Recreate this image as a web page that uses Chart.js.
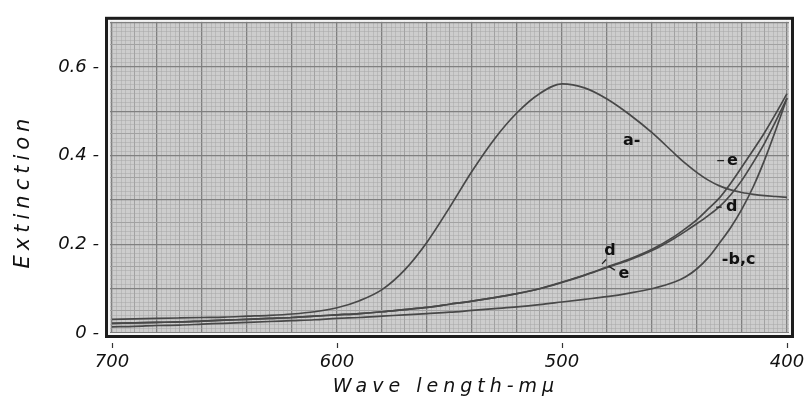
<!DOCTYPE html>
<html><head><meta charset="utf-8">
<script src="https://cdn.jsdelivr.net/npm/chart.js@4/dist/chart.umd.min.js"></script>
<style>html,body{margin:0;padding:0;background:#fff;}</style>
</head><body>
<canvas id="c" width="809" height="404"></canvas>
<script>
// ---- data ----
const wavelengths = [700,690,680,670,660,650,640,630,620,610,600,590,580,570,560,550,540,530,520,510,500,490,480,470,460,450,445,440,435,430,425,420,415,410,405,400];
const curveA  = [0.031,0.032,0.033,0.034,0.035,0.036,0.038,0.040,0.043,0.048,0.057,0.073,0.098,0.142,0.205,0.283,0.365,0.438,0.497,0.540,0.562,0.553,0.528,0.493,0.452,0.405,0.382,0.362,0.345,0.332,0.323,0.317,0.313,0.310,0.308,0.306];
const curveBC = [0.014,0.015,0.017,0.018,0.020,0.022,0.024,0.026,0.028,0.030,0.033,0.035,0.038,0.041,0.044,0.047,0.051,0.055,0.059,0.064,0.070,0.076,0.082,0.090,0.100,0.115,0.127,0.145,0.170,0.203,0.238,0.280,0.330,0.390,0.458,0.530];
const curveD  = [0.022,0.023,0.024,0.025,0.027,0.029,0.031,0.033,0.035,0.038,0.041,0.044,0.048,0.053,0.058,0.065,0.072,0.080,0.089,0.100,0.114,0.130,0.148,0.165,0.186,0.214,0.230,0.247,0.265,0.285,0.312,0.345,0.385,0.428,0.478,0.530];
const curveE  = [0.022,0.023,0.024,0.025,0.027,0.029,0.031,0.033,0.035,0.038,0.041,0.044,0.048,0.053,0.058,0.065,0.072,0.080,0.089,0.100,0.115,0.131,0.149,0.167,0.189,0.218,0.236,0.256,0.280,0.305,0.338,0.375,0.413,0.452,0.495,0.540];
const seriesNames = ['a','b,c','d','e'];
const xTickLabels = [700,600,500,400];
const yTickLabels = [0,0.2,0.4,0.6];
const xAxisTitle = 'Wave length-m\u03bc';
const yAxisTitle = 'Extinction';
// curve labels anchored in data units (wavelength, extinction)
const curveLabels = [
  {text:'a-',  nm:469.0, v:0.433},
  {text:'e',   nm:424.2, v:0.389},
  {text:'d',   nm:424.6, v:0.284},
  {text:'d',   nm:478.7, v:0.186},
  {text:'e',   nm:472.5, v:0.134},
  {text:'-b,c',nm:421.5, v:0.165}
];
const leaders = [
  {nm1:480.4, v1:0.166, nm2:482.2, v2:0.156},
  {nm1:476.5, v1:0.142, nm2:479.3, v2:0.151},
  {nm1:428.0, v1:0.389, nm2:431.0, v2:0.389},
  {nm1:429.0, v1:0.284, nm2:431.5, v2:0.284}
];

const toXY = arr => arr.map((v,i)=>({x:wavelengths[i], y:v}));
const lineCol = '#484848';
const mk = (label, arr) => ({label, data:toXY(arr), borderColor:lineCol, borderWidth:1.7, pointRadius:0, fill:false, cubicInterpolationMode:'monotone'});

const xGrid = []; for (let n=400; n<=700; n+=2) xGrid.push(n);
const yGrid = []; for (let i=0; i<=70; i++) yGrid.push(i/100);

const tickFont = {family:'"DejaVu Sans"', size:18, style:'italic'};

const paper = {
  id:'paper',
  beforeDraw(chart){
    const {ctx, chartArea:a} = chart;
    ctx.save(); ctx.fillStyle='#cdcdcd'; ctx.fillRect(a.left,a.top,a.right-a.left,a.bottom-a.top); ctx.restore();
  },
  afterDraw(chart){
    const {ctx, chartArea:a, scales} = chart;
    const xs = scales.x, ys = scales.y;
    ctx.save();
    // frame
    ctx.strokeStyle='#f4f4f4'; ctx.lineWidth=2;
    ctx.strokeRect(a.left+1,a.top+1,a.right-a.left-2,a.bottom-a.top-2);
    ctx.strokeStyle='#1c1c1c'; ctx.lineWidth=3;
    ctx.strokeRect(a.left-1.5,a.top-1.5,a.right-a.left+3,a.bottom-a.top+3);
    // small x tick marks
    ctx.strokeStyle='#333'; ctx.lineWidth=1.2;
    xTickLabels.forEach(n=>{const px=Math.round(xs.getPixelForValue(n))+0.5; ctx.beginPath(); ctx.moveTo(px,a.bottom+8); ctx.lineTo(px,a.bottom+13); ctx.stroke();});
    // leaders
    ctx.strokeStyle='#222'; ctx.lineWidth=1.3;
    leaders.forEach(l=>{ctx.beginPath(); ctx.moveTo(xs.getPixelForValue(l.nm1),ys.getPixelForValue(l.v1)); ctx.lineTo(xs.getPixelForValue(l.nm2),ys.getPixelForValue(l.v2)); ctx.stroke();});
    // curve labels
    ctx.fillStyle='#111'; ctx.font='bold 16px "DejaVu Sans"'; ctx.textAlign='center'; ctx.textBaseline='middle';
    curveLabels.forEach(l=>ctx.fillText(l.text, xs.getPixelForValue(l.nm), ys.getPixelForValue(l.v)));
    // axis titles
    ctx.fillStyle='#111';
    ctx.font='italic 19px "DejaVu Sans"';
    ctx.letterSpacing='5px';
    ctx.textAlign='center'; ctx.textBaseline='middle';
    ctx.fillText(xAxisTitle, 446, 387);
    ctx.font='italic 21px "DejaVu Sans"';
    ctx.translate(24,191); ctx.rotate(-Math.PI/2);
    ctx.fillText(yAxisTitle, 0, 0);
    ctx.restore();
  }
};

const gridColor = lvl => lvl===2?'#808080':(lvl===1?'#a2a2a2':'rgba(165,165,165,0.45)');

new Chart(document.getElementById('c'), {
  type:'line',
  data:{datasets:[mk(seriesNames[0],curveA), mk(seriesNames[1],curveBC), mk(seriesNames[2],curveD), mk(seriesNames[3],curveE)]},
  options:{
    responsive:false, animation:false, devicePixelRatio:1,
    layout:{padding:{left:0,right:18,top:15,bottom:0}},
    plugins:{legend:{display:false}, tooltip:{enabled:false}},
    scales:{
      x:{type:'linear', reverse:true, min:398.22, max:701.78,
        afterBuildTicks:s=>{s.ticks = xGrid.map(v=>({value:v}));},
        afterFit:s=>{s.height=69;},
        border:{display:false},
        grid:{drawTicks:false,
          color:c=>{const v=Math.round(c.tick.value); return gridColor(v%20===0?2:(v%10===0?1:0));},
          lineWidth:c=>{const v=Math.round(c.tick.value); return v%20===0?1.3:1;}},
        ticks:{autoSkip:false, maxRotation:0, padding:17, color:'#111', font:tickFont,
          callback:v=>xTickLabels.includes(Math.round(v))?String(Math.round(v)):''}
      },
      y:{type:'linear', min:-0.00444, max:0.7067,
        afterBuildTicks:s=>{s.ticks = yGrid.map(v=>({value:v}));},
        afterFit:s=>{s.width=108;},
        border:{display:false},
        grid:{drawTicks:false,
          color:c=>{const i=Math.round(c.tick.value*100); return gridColor(i%10===0?2:(i%5===0?1:0));},
          lineWidth:c=>{const i=Math.round(c.tick.value*100); return i%10===0?1.3:1;}},
        ticks:{autoSkip:false, padding:9, color:'#111', font:tickFont,
          callback:v=>{const i=Math.round(v*100); const m=yTickLabels.find(t=>Math.round(t*100)===i); return m===undefined?'':((m===0?'0':m.toFixed(1))+' -');}}
      }
    }
  },
  plugins:[paper]
});
</script>
</body></html>
